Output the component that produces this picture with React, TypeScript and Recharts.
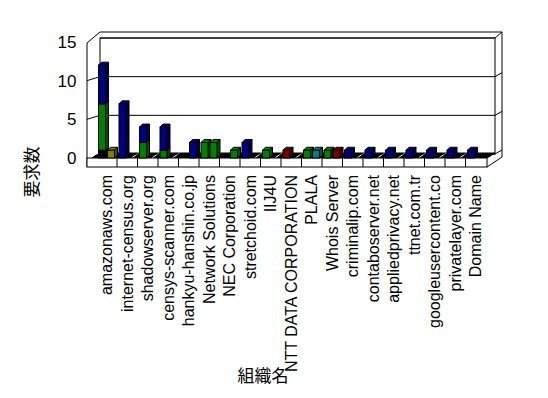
import React from 'react';
import { BarChart, Bar, XAxis, YAxis, CartesianGrid } from 'recharts';

// ---------- DATA ----------
const categories = [
  'amazonaws.com',
  'internet-census.org',
  'shadowserver.org',
  'censys-scanner.com',
  'hankyu-hanshin.co.jp',
  'Network Solutions',
  'NEC Corporation',
  'stretchoid.com',
  'IIJ4U',
  'NTT DATA CORPORATION',
  'PLALA',
  'Whois Server',
  'criminalip.com',
  'contaboserver.net',
  'appliedprivacy.net',
  'ttnet.com.tr',
  'googleusercontent.co',
  'privatelayer.com',
  'Domain Name',
];
// front row (stacked)
const frontBlack = [1, 0, 0, 0, 0, 0, 0, 0, 0, 0, 0, 0, 0, 0, 0, 0, 0, 0, 0];
const frontGreen = [6, 0, 2, 1, 0, 2, 0, 0, 1, 0, 1, 1, 0, 0, 0, 0, 0, 0, 0];
const frontBlue = [5, 7, 2, 3, 0, 0, 0, 2, 0, 0, 0, 0, 1, 1, 1, 1, 1, 1, 1];
const frontRed = [0, 0, 0, 0, 0, 0, 0, 0, 0, 1, 0, 0, 0, 0, 0, 0, 0, 0, 0];
// back row (stacked)
const backOlive = [1, 0, 0, 0, 0, 0, 0, 0, 0, 0, 0, 0, 0, 0, 0, 0, 0, 0, 0];
const backBlue = [0, 0, 0, 0, 2, 0, 0, 0, 0, 0, 0, 0, 0, 0, 0, 0, 0, 0, 0];
const backGreen = [0, 0, 0, 0, 0, 2, 1, 0, 0, 0, 0, 0, 0, 0, 0, 0, 0, 0, 0];
const backCyan = [0, 0, 0, 0, 0, 0, 0, 0, 0, 0, 1, 0, 0, 0, 0, 0, 0, 0, 0];
const backRed = [0, 0, 0, 0, 0, 0, 0, 0, 0, 0, 0, 1, 0, 0, 0, 0, 0, 0, 0];
const yTicks = [0, 5, 10, 15];
const yTitle = '要求数';
const xTitle = '組織名';

const data = categories.map((name, i) => ({
  name,
  frontBlack: frontBlack[i],
  frontGreen: frontGreen[i],
  frontBlue: frontBlue[i],
  frontRed: frontRed[i],
  backOlive: backOlive[i],
  backBlue: backBlue[i],
  backGreen: backGreen[i],
  backCyan: backCyan[i],
  backRed: backRed[i],
}));

// ---------- LAYOUT ----------
const CW = 540;
const CH = 390;
const Y_W = 88.5;
const PT = 34;
const X_H = 240;
const M_RIGHT = 62;
const PL = Y_W;
const PR = CW - M_RIGHT;
const PB = CH - X_H;
const FL = PL - 9.5; // front-left frame line
const FR = PR + 1;
const BL = FL + 13; // back wall left
const BR = PR + 9; // back wall right
const OR = BR + 7; // outer right
const OT = PT - 10; // outer top
const BACK_DY = 4;
const FLOOR_H = 9;
const BAND = (PR - PL) / categories.length;

const FONT = '"Liberation Sans", Arial, sans-serif';
const JFONT = '"Noto Sans CJK JP", "Liberation Sans", sans-serif';

const D = 3; // bar depth

const makeShape = (front: string, side: string, top: string) => (props: any) => {
  const { x, y, width, height } = props;
  if (!height || height <= 0 || !width) return <g />;
  const w = width;
  const h = height;
  return (
    <g stroke="#000" strokeWidth={1}>
      <polygon points={`${x},${y} ${x + D},${y - D} ${x + w + D},${y - D} ${x + w},${y}`} fill={top} />
      <polygon points={`${x + w},${y} ${x + w + D},${y - D} ${x + w + D},${y + h - D} ${x + w},${y + h}`} fill={side} />
      <rect x={x} y={y} width={w} height={h} fill={front} />
    </g>
  );
};

const XTick = (props: any) => {
  const { x, y, payload } = props;
  return (
    <text
      x={x}
      y={y}
      transform={`rotate(-90, ${x}, ${y})`}
      textAnchor="end"
      dominantBaseline="central"
      fontSize={16}
      fontFamily={FONT}
      fill="#000"
    >
      {payload.value}
    </text>
  );
};

const gridLine = (props: any) => {
  const { x1, y1, x2, index } = props;
  const yb = y1 - BACK_DY;
  const inner = Math.abs(y1 - PT) > 1 && Math.abs(y1 - PB) > 1;
  return (
    <g key={`grid-${index}`} stroke="#000" strokeWidth={1} fill="none">
      <line x1={BL} y1={yb} x2={BR} y2={yb} />
      {inner && <line x1={FL} y1={y1} x2={BL} y2={yb} />}
      {inner && <line x1={BR} y1={yb} x2={OR} y2={yb - 4} />}
    </g>
  );
};

const Background = () => {
  const dividers = [];
  const floorMarks = [];
  for (let i = 0; i <= categories.length; i++) {
    const bx = PL + i * BAND;
    if (i > 0 && i < categories.length) {
      dividers.push(<line key={`d${i}`} x1={bx} y1={PB} x2={bx} y2={PB + FLOOR_H} />);
    }
    if (i < categories.length) {
      floorMarks.push(<line key={`f${i}`} x1={bx - 6} y1={PB} x2={bx + 1} y2={PB - 5} stroke="#fff" />);
    }
  }
  return (
    <svg width={CW} height={CH} style={{ position: 'absolute', left: 0, top: 0 }}>
      <g stroke="#000" strokeWidth={1} fill="none">
        {/* back wall */}
        <rect x={BL} y={PT - BACK_DY} width={BR - BL} height={PB - PT} fill="#fff" />
        {/* outer box */}
        <line x1={FL} y1={PT + 1} x2={FL} y2={PB + FLOOR_H} />
        <line x1={FL} y1={PT + 1} x2={BL} y2={OT} />
        <line x1={BL} y1={OT} x2={OR} y2={OT} />
        <line x1={OR} y1={OT} x2={OR} y2={PB - 1} />
        <line x1={BR} y1={PT - BACK_DY} x2={OR} y2={OT} />
        <line x1={OR} y1={PB - 1} x2={FR} y2={PB + FLOOR_H} />
        <line x1={BR} y1={PB - BACK_DY} x2={OR} y2={PB - BACK_DY - 4} />
        {/* floor */}
        <polygon
          points={`${FL + 4},${PB} ${BL},${PB - 5} ${BR},${PB - 5} ${FR},${PB}`}
          fill="#000"
        />
        <g>{floorMarks}</g>
        <rect x={FL} y={PB} width={FR - FL} height={FLOOR_H} fill="#fff" />
        {dividers}
      </g>
      <text
        x={22}
        y={164}
        transform="rotate(-90, 22, 164)"
        textAnchor="middle"
        dominantBaseline="central"
        fontSize={17}
        fontFamily={JFONT}
        fill="#000"
      >
        {yTitle}
      </text>
      <text x={255} y={374} textAnchor="middle" fontSize={17} fontFamily={JFONT} fill="#000">
        {xTitle}
      </text>
    </svg>
  );
};

export default function App() {
  return (
    <div style={{ position: 'relative', width: CW, height: CH }}>
      <Background />
      <div style={{ position: 'absolute', left: 0, top: 0 }}>
        <BarChart
          width={CW}
          height={CH}
          data={data}
          margin={{ top: PT, right: M_RIGHT, bottom: 0, left: 0 }}
          barSize={7}
          barGap={2}
        >
          <CartesianGrid vertical={false} horizontal={gridLine} />
          <XAxis
            dataKey="name"
            interval={0}
            height={X_H}
            axisLine={false}
            tickLine={false}
            tickSize={0}
            tickMargin={17}
            tick={<XTick />}
          />
          <YAxis
            width={Y_W}
            domain={[0, 15]}
            ticks={yTicks}
            axisLine={false}
            tickLine={false}
            tickSize={0}
            tickMargin={20}
            tick={{ fill: '#000', fontSize: 17, fontFamily: FONT }}
          />
          <Bar dataKey="frontBlack" stackId="a" isAnimationActive={false} shape={makeShape('#000000', '#000000', '#202020')} />
          <Bar dataKey="frontGreen" stackId="a" isAnimationActive={false} shape={makeShape('#008000', '#005000', '#008000')} />
          <Bar dataKey="frontBlue" stackId="a" isAnimationActive={false} shape={makeShape('#000080', '#000050', '#000080')} />
          <Bar dataKey="frontRed" stackId="a" isAnimationActive={false} shape={makeShape('#800000', '#500000', '#800000')} />
          <Bar dataKey="backOlive" stackId="b" isAnimationActive={false} shape={makeShape('#808000', '#505000', '#808000')} />
          <Bar dataKey="backBlue" stackId="b" isAnimationActive={false} shape={makeShape('#000080', '#000050', '#000080')} />
          <Bar dataKey="backGreen" stackId="b" isAnimationActive={false} shape={makeShape('#008000', '#005000', '#008000')} />
          <Bar dataKey="backCyan" stackId="b" isAnimationActive={false} shape={makeShape('#008080', '#005050', '#008080')} />
          <Bar dataKey="backRed" stackId="b" isAnimationActive={false} shape={makeShape('#800000', '#500000', '#800000')} />
        </BarChart>
      </div>
    </div>
  );
}
